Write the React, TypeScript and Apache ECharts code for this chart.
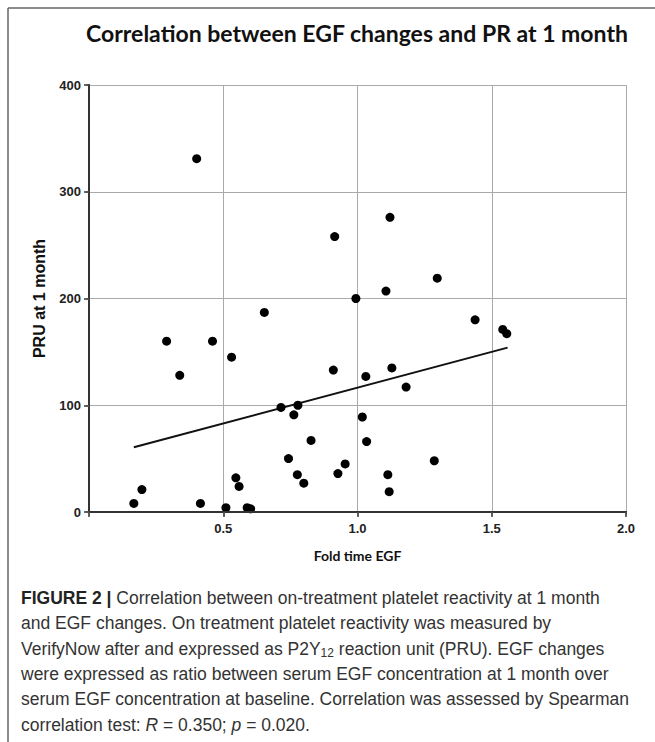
import React, { useEffect, useRef } from "react";
import * as echarts from "echarts";

// Fold change of EGF (x) and PRU at 1 month (y)
const egfFold = [
  0.167, 0.197, 0.289, 0.338, 0.401, 0.415, 0.46, 0.51, 0.531, 0.547,
  0.559, 0.589, 0.602, 0.653, 0.715, 0.743, 0.763, 0.776, 0.778, 0.8,
  0.827, 0.91, 0.915, 0.927, 0.954, 0.994, 1.018, 1.031, 1.034, 1.106,
  1.113, 1.118, 1.121, 1.128, 1.181, 1.286, 1.297, 1.438, 1.541, 1.556,
];
const pru = [
  8, 21, 160, 128, 331, 8, 160, 4, 145, 32,
  24, 4, 3, 187, 98, 50, 91, 35, 100, 27,
  67, 133, 258, 36, 45, 200, 89, 127, 66, 207,
  35, 19, 276, 135, 117, 48, 219, 180, 171, 167,
];
// Linear regression line end points
const regressionX = [0.167, 1.559];
const regressionY = [60.6, 154];

const titleText = "Correlation between EGF changes and PR at 1 month";
const xAxisName = "Fold time EGF";
const yAxisName = "PRU at 1 month";
const captionLines = [
  "{b|FIGURE 2 |} Correlation between on-treatment platelet reactivity at 1 month",
  "and EGF changes. On treatment platelet reactivity was measured by",
  "VerifyNow after and expressed as P2Y{sub|12} reaction unit (PRU). EGF changes",
  "were expressed as ratio between serum EGF concentration at 1 month over",
  "serum EGF concentration at baseline. Correlation was assessed by Spearman",
  "correlation test: {i|R} = 0.350; {i|p} = 0.020.",
];

export default function App() {
  const ref = useRef<HTMLDivElement>(null);
  useEffect(() => {
    if (!ref.current) return;
    const chart = echarts.init(ref.current, null, { renderer: "svg" });
    const points = egfFold.map((x, i) => [x, pru[i]]);
    const line = regressionX.map((x, i) => [x, regressionY[i]]);
    const capFont = "'Liberation Sans', Arial, sans-serif";
    const capColor = "#333";
    const capSize = 17.5;
    const option: any = {
      animation: false,
      backgroundColor: "#fff",
      grid: { left: 89, right: 29, top: 85, bottom: 230, containLabel: false },
      xAxis: [
        {
          type: "value",
          min: 0,
          max: 2,
          interval: 0.5,
          name: xAxisName,
          nameLocation: "middle",
          nameGap: 36,
          nameTextStyle: {
            fontFamily: "Lato, 'Open Sans', sans-serif",
            fontWeight: "bold",
            fontSize: 14,
            color: "#111",
          },
          axisLine: { show: true, lineStyle: { color: "#333", width: 2 } },
          axisTick: { show: true, length: 5, lineStyle: { color: "#333", width: 1.5 } },
          axisLabel: {
            margin: 10,
            fontFamily: "'Liberation Sans', Arial, sans-serif",
            fontWeight: "bold",
            fontSize: 13,
            color: "#222",
            formatter: (v: number) => (v === 0 ? "" : v.toFixed(1)),
          },
          splitLine: { show: true, lineStyle: { color: "#aaa", width: 1 } },
        },
        {
          type: "value",
          position: "top",
          min: 0,
          max: 2,
          interval: 0.5,
          z: 5,
          axisLine: { show: true, lineStyle: { color: "#333", width: 2 } },
          axisTick: { show: true, inside: true, length: 3, lineStyle: { color: "#555", width: 1.5 } },
          axisLabel: { show: false },
          splitLine: { show: false },
        },
      ],
      yAxis: [
        {
          type: "value",
          min: 0,
          max: 400,
          interval: 100,
          name: yAxisName,
          nameLocation: "middle",
          nameGap: 42,
          nameTextStyle: {
            fontFamily: "'Liberation Sans', Arial, sans-serif",
            fontWeight: "bold",
            fontSize: 16,
            color: "#111",
          },
          axisLine: { show: true, lineStyle: { color: "#333", width: 2 } },
          axisTick: { show: true, length: 5, lineStyle: { color: "#333", width: 1.5 } },
          axisLabel: {
            margin: 8,
            fontFamily: "'Liberation Sans', Arial, sans-serif",
            fontWeight: "bold",
            fontSize: 13,
            color: "#222",
          },
          splitLine: { show: true, lineStyle: { color: "#aaa", width: 1 } },
        },
        {
          type: "value",
          position: "right",
          min: 0,
          max: 400,
          interval: 100,
          z: 5,
          axisLine: { show: true, lineStyle: { color: "#333", width: 2 } },
          axisTick: { show: true, inside: true, length: 3, lineStyle: { color: "#555", width: 1.5 } },
          axisLabel: { show: false },
          splitLine: { show: false },
        },
      ],
      series: [
        {
          type: "line",
          data: line,
          symbol: "none",
          lineStyle: { color: "#111", width: 2 },
          z: 3,
        },
        {
          type: "scatter",
          data: points,
          symbol: "circle",
          symbolSize: 9,
          itemStyle: { color: "#000", opacity: 1 },
          z: 4,
        },
      ],
      graphic: [
        {
          type: "line",
          shape: { x1: 8, y1: 8, x2: 655, y2: 8 },
          style: { stroke: "#666", lineWidth: 1.5 },
        },
        {
          type: "line",
          shape: { x1: 8, y1: 8, x2: 8, y2: 742 },
          style: { stroke: "#666", lineWidth: 1.5 },
        },
        {
          type: "text",
          x: 357,
          y: 33,
          style: {
            text: titleText,
            textAlign: "center",
            textVerticalAlign: "middle",
            fontFamily: "Lato, 'Open Sans', sans-serif",
            fontWeight: "bold",
            fontSize: 23,
            fill: "#111",
          },
        },
        ...captionLines.map((t, i) => ({
          type: "text",
          x: 21,
          y: 598 + i * 25.3,
          style: {
            text: t,
            textVerticalAlign: "middle",
            fontFamily: capFont,
            fontSize: capSize,
            fill: capColor,
            rich: {
              b: { fontFamily: capFont, fontSize: capSize, fontWeight: "bold", fill: "#222" },
              sub: { fontFamily: capFont, fontSize: 12, fill: capColor, verticalAlign: "bottom", padding: [8, 0, 0, 0] },
              i: { fontFamily: capFont, fontSize: capSize, fontStyle: "italic", fill: capColor },
            },
          },
        })),
      ],
    };
    chart.setOption(option);
    return () => chart.dispose();
  }, []);
  return (
    <div
      ref={ref}
      style={{ position: "fixed", left: 0, top: 0, width: 655, height: 742, background: "#fff" }}
    />
  );
}
